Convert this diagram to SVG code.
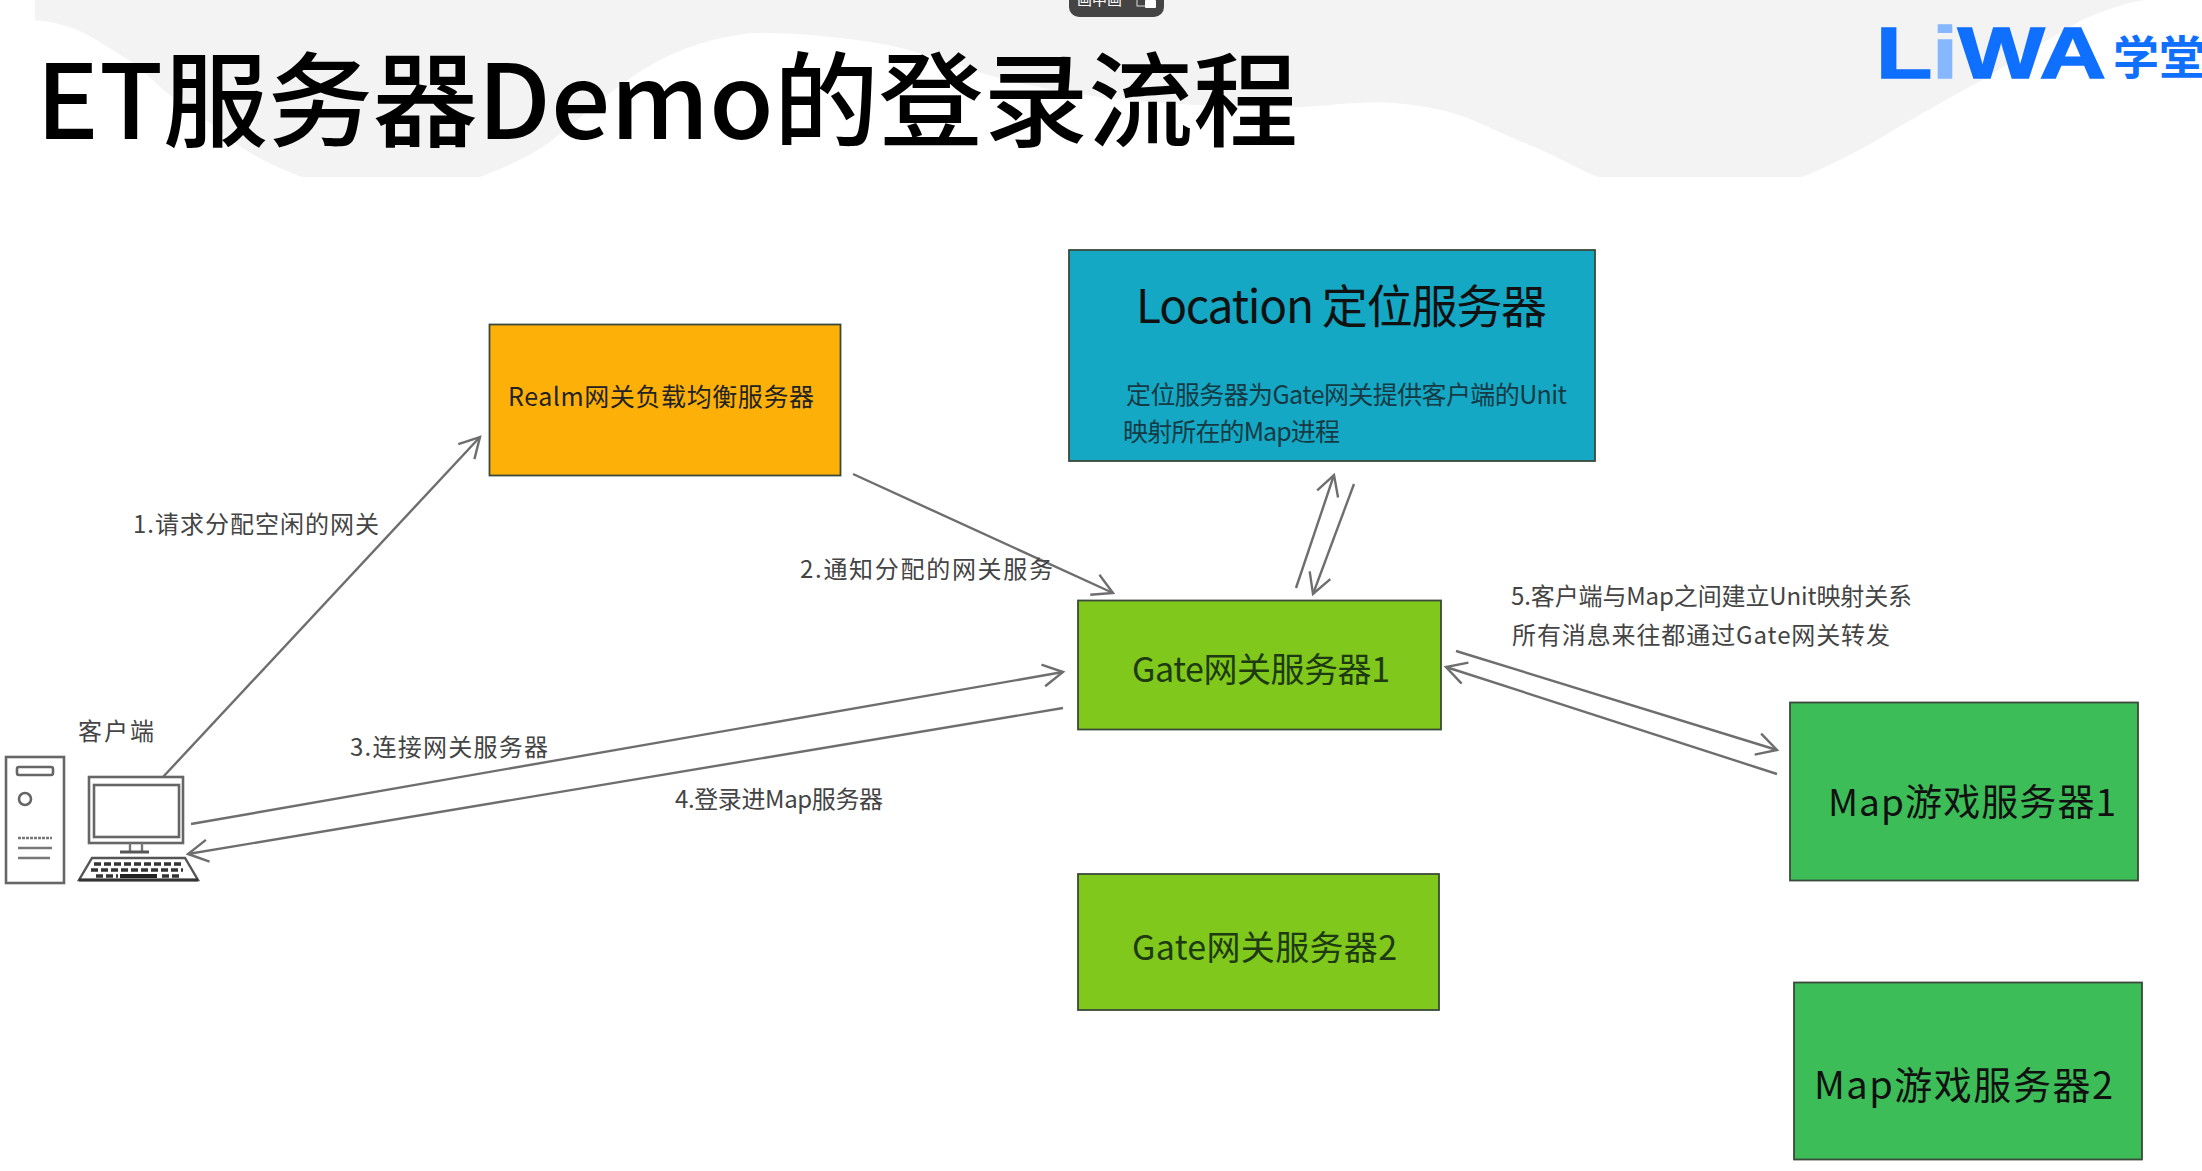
<svg xmlns="http://www.w3.org/2000/svg" width="2202" height="1171" viewBox="0 0 2202 1171">
<style>
text{font-family:"Noto Sans CJK SC","Noto Sans",sans-serif;fill:#111;dominant-baseline:central}
.title{font-size:103px;font-weight:500;fill:#000;dominant-baseline:auto}
.lab{font-size:24px;fill:#444}
.box{stroke:#3a4a3a;stroke-width:1.8}
.conn{stroke:#6e6e6e;stroke-width:2.4;fill:none;marker-end:url(#arr)}
.ico{stroke:#666;stroke-width:2.6;fill:#fff}
.thin{stroke:#777;stroke-width:2.4;fill:none}
</style>
<defs>
<marker id="arr" markerUnits="userSpaceOnUse" markerWidth="30" markerHeight="30" refX="23" refY="12" orient="auto">
<path d="M3 1L23 12L3 23" fill="none" stroke="#6e6e6e" stroke-width="2.4"/>
</marker>
</defs>
<rect width="2202" height="1171" fill="#fff"/>
<path id="banner" fill="#f3f3f4" d="M35 0L35 20C60 22 80 30 91 37C110 48 125 58 140 67C165 95 185 105 210 123C240 150 270 165 302 177L480 177C510 165 535 155 561 133C590 110 610 92 632 77C660 58 680 50 702 43C730 35 750 32 772 33C810 34 845 38 877 43C915 50 950 62 982 73C1020 85 1060 92 1100 97C1170 105 1230 107 1296 107C1330 106 1365 100 1395 103C1425 106 1445 110 1465 117C1490 127 1515 140 1535 147C1560 158 1580 170 1598 177L1802 177C1825 168 1850 155 1872 143C1910 120 1945 100 1977 83C2015 60 2050 38 2082 20C2105 10 2125 3 2145 0Z"/>
<g id="pip">
<path d="M1069 0H1164V7A10 10 0 0 1 1154 17H1079A10 10 0 0 1 1069 7Z" fill="#444"/>
<text x="1077" y="5" font-size="15" style="fill:#fff;dominant-baseline:auto" textLength="45">画中画</text>
<rect x="1137" y="-4" width="9" height="10" fill="none" stroke="#ddd" stroke-width="1"/>
<rect x="1145" y="0" width="11" height="8" rx="1" fill="#fff"/>
</g>
<text class="title" x="36" y="139" textLength="1262" lengthAdjust="spacingAndGlyphs">ET服务器Demo的登录流程</text>
<g id="logo">
<text x="1876" y="78" font-size="72" font-weight="700" textLength="230" lengthAdjust="spacingAndGlyphs" style="font-family:'Liberation Sans',sans-serif;fill:#0f6fff;stroke:#0f6fff;stroke-width:1.5;dominant-baseline:auto">L<tspan style="fill:#86b7ff;stroke:#86b7ff">i</tspan>WA</text>
<text x="2113" y="74" font-size="46" font-weight="700" style="fill:#0f6fff;dominant-baseline:auto">学堂</text>
</g>
<g id="connectors">
<line class="conn" x1="163" y1="777" x2="480" y2="437"/>
<line class="conn" x1="853" y1="474" x2="1113" y2="593"/>
<line class="conn" x1="1296" y1="588" x2="1334" y2="475"/>
<line class="conn" x1="1354" y1="484" x2="1313" y2="594"/>
<line class="conn" x1="191" y1="824" x2="1063" y2="672"/>
<line class="conn" x1="1063" y1="708" x2="188" y2="854"/>
<line class="conn" x1="1456" y1="651" x2="1777" y2="750"/>
<line class="conn" x1="1777" y1="774" x2="1446" y2="667"/>
</g>
<g id="client">
<rect class="ico" x="6" y="757" width="58" height="126"/>
<rect class="ico" x="17" y="767" width="36" height="8" rx="2"/>
<circle class="ico" cx="25" cy="799" r="6"/>
<path class="thin" stroke-dasharray="3 1" d="M18 838H52"/>
<path class="thin" d="M18 848H52M18 858H50"/>
<rect class="ico" x="89" y="777" width="94" height="66"/>
<rect class="ico" x="94" y="785" width="85" height="52"/>
<path class="thin" d="M130 843V852M142 843V852"/>
<path d="M120 852H149" stroke="#555" stroke-width="3"/>
<path d="M92 858H185L198 880H79Z" fill="#fff" stroke="#555" stroke-width="2.4"/>
<path d="M94 864H183M91 870H183M96 876H118M162 876H182" stroke="#333" stroke-width="3.5" stroke-dasharray="7 3" fill="none"/>
<path d="M120 876H157" stroke="#222" stroke-width="4"/>
<path d="M79 880H198" stroke="#333" stroke-width="3"/>
<text class="lab" x="78" y="729" textLength="76">客户端</text>
</g>
<g id="realm">
<rect class="box" x="489.5" y="324.5" width="351" height="151" fill="#fdb108"/>
<text x="508" y="395" font-size="25" textLength="306" style="fill:#222">Realm网关负载均衡服务器</text>
</g>
<g id="location">
<rect class="box" x="1069" y="250" width="526" height="211" fill="#14a8c4"/>
<text x="1136" y="303" font-size="46" textLength="411">Location 定位服务器</text>
<text x="1126" y="393" font-size="25" textLength="441" style="fill:#163a44">定位服务器为Gate网关提供客户端的Unit</text>
<text x="1123" y="430" font-size="25" textLength="217" style="fill:#163a44">映射所在的Map进程</text>
</g>
<g id="gate1">
<rect class="box" x="1078" y="600.5" width="363" height="129" fill="#80c81c"/>
<text x="1132" y="667" font-size="34" textLength="258" style="fill:#1d3a10">Gate网关服务器1</text>
</g>
<g id="gate2">
<rect class="box" x="1078" y="874" width="361" height="136" fill="#80c81c"/>
<text x="1132" y="945" font-size="34" textLength="265" style="fill:#1d3a10">Gate网关服务器2</text>
</g>
<g id="map1">
<rect class="box" x="1790" y="702.5" width="348" height="178" fill="#3dbd58"/>
<text x="1828" y="800" font-size="37" textLength="288">Map游戏服务器1</text>
</g>
<g id="map2">
<rect class="box" x="1794" y="982.5" width="348" height="177" fill="#3dbd58"/>
<text x="1814" y="1082" font-size="38" textLength="299">Map游戏服务器2</text>
</g>
<g id="labels">
<text class="lab" x="133" y="522" textLength="246">1.请求分配空闲的网关</text>
<text class="lab" x="800" y="567" textLength="253">2.通知分配的网关服务</text>
<text class="lab" x="350" y="745" textLength="198">3.连接网关服务器</text>
<text class="lab" x="675" y="797" textLength="208">4.登录进Map服务器</text>
<text class="lab" x="1511" y="594" textLength="401">5.客户端与Map之间建立Unit映射关系</text>
<text class="lab" x="1512" y="633" textLength="378">所有消息来往都通过Gate网关转发</text>
</g>
</svg>
